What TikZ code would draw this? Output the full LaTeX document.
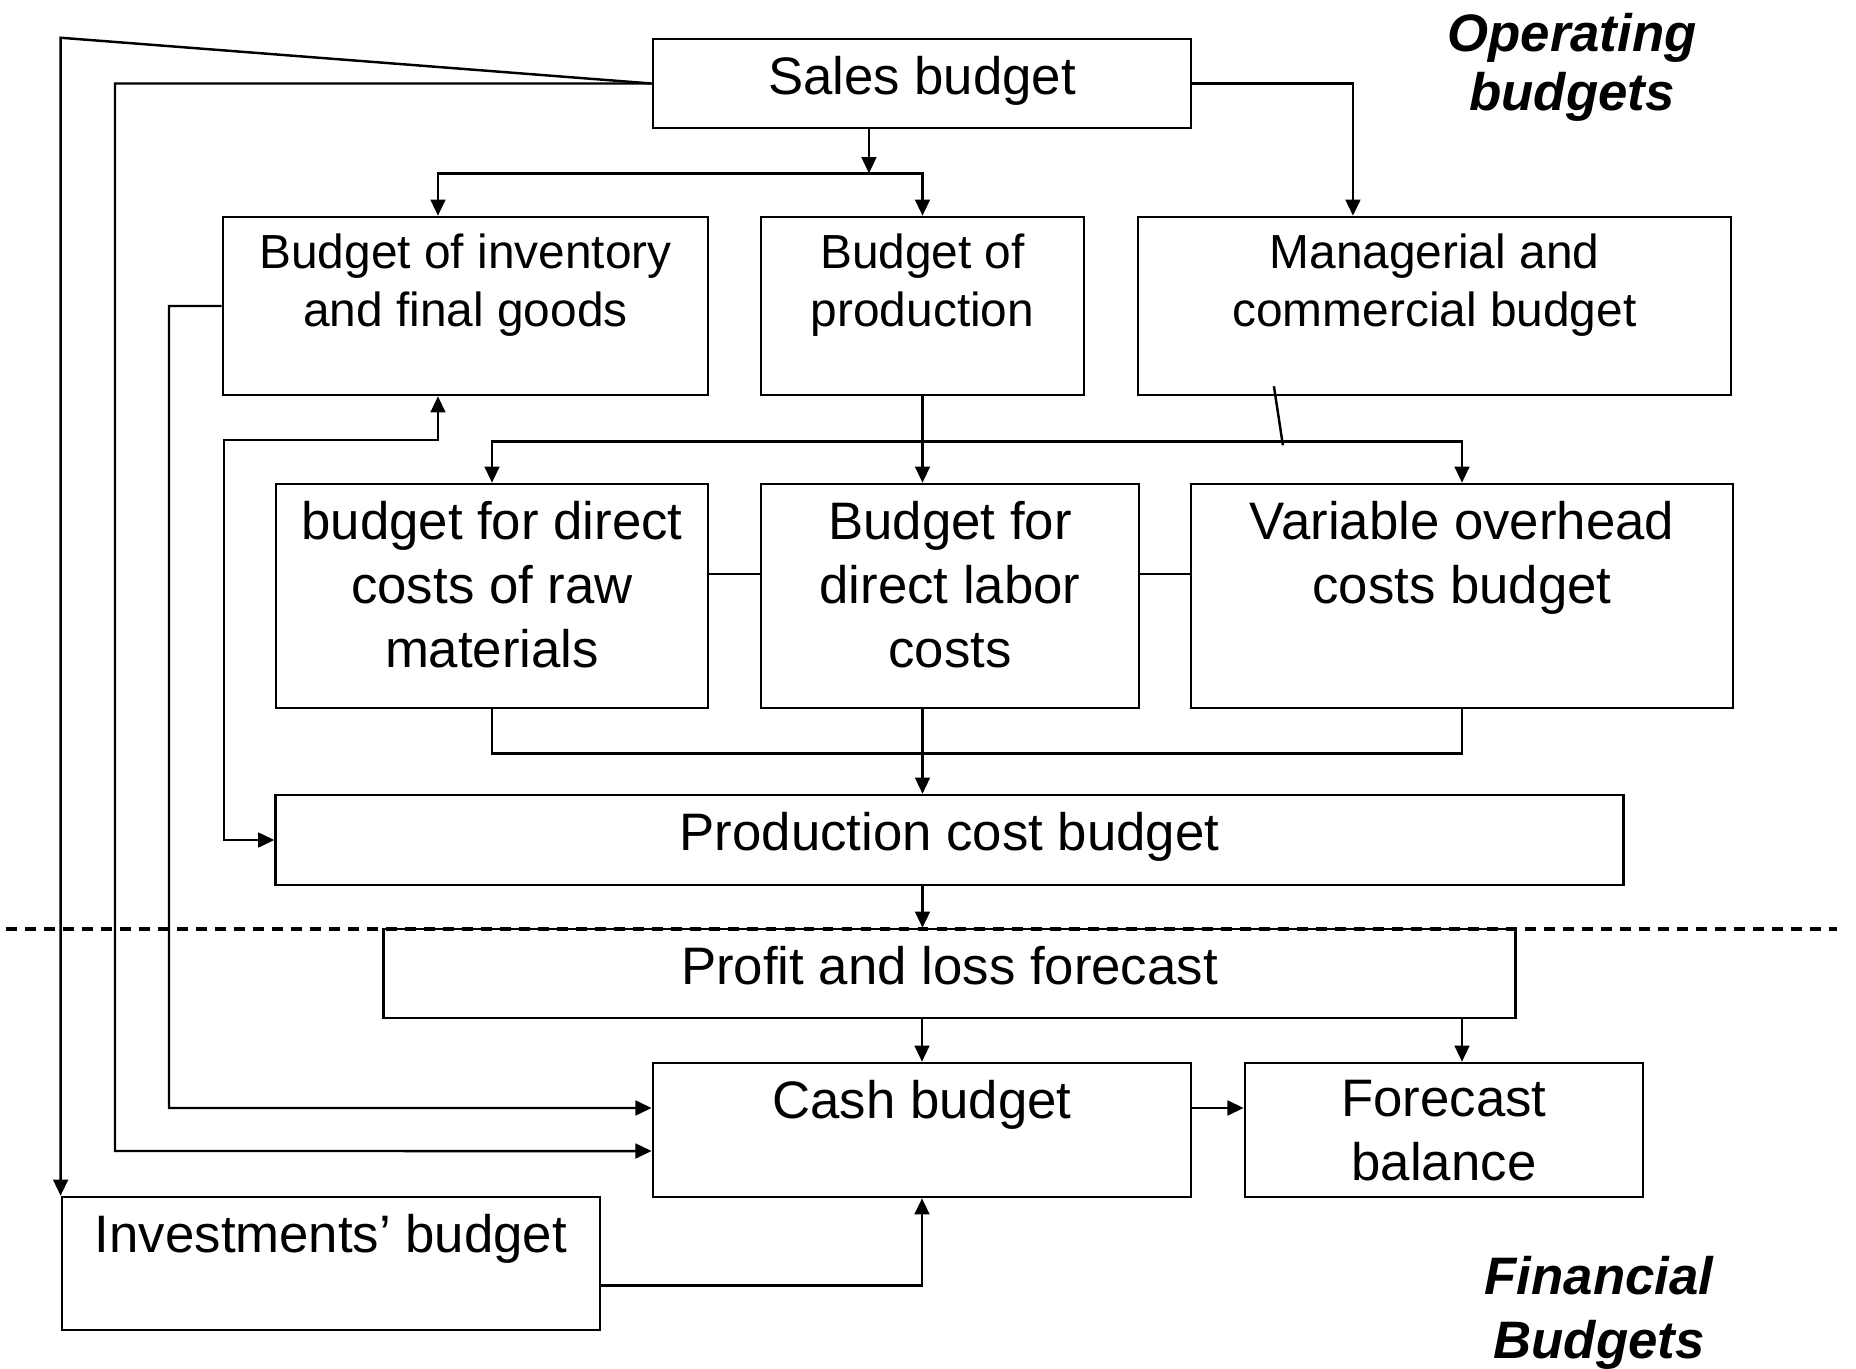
\documentclass[tikz,border=0pt]{standalone}
\usepackage{fontspec}
\setmainfont{Liberation Sans}
\usetikzlibrary{arrows.meta,positioning}
\tikzset{
  box/.style 2 args={draw,inner sep=0pt,minimum width=#1cm,minimum height=#2cm},
  txt/.style={anchor=north,align=center,inner sep=0.17cm,font=\fontsize{15pt}{18.2pt}\selectfont},
  small/.style={font=\fontsize{13.6pt}{16.5pt}\selectfont},
  head/.style={anchor=north,align=center,inner sep=0pt,font=\bfseries\itshape\fontsize{15pt}{16.8pt}\selectfont},
  >={Triangle[length=4.6pt,width=4.2pt]}
}

\begin{document}
\begin{tikzpicture}[x=0.01cm,y=-0.01cm,line width=0.7pt]
  \useasboundingbox (0,0) rectangle (1856,1369);
  \node[box={5.38}{0.89},label={[txt]north:Sales budget}] (sales) at (922,83.5) {};
  \node[box={4.85}{1.78},label={[txt,small]north:{Budget of inventory\\and final goods}}] (inv) at (465.5,306) {};
  \node[box={3.23}{1.78},label={[txt,small]north:{Budget of\\production}}] (prod) at (922.5,306) {};
  \node[box={5.93}{1.78},label={[txt,small]north:{Managerial and\\commercial budget}}] (mgr) at (1434.5,306) {};
  \node[box={4.32}{2.24},label={[txt]north:{budget for direct\\costs of raw\\materials}}] (raw) at (492,596) {};
  \node[box={3.78}{2.24},label={[txt]north:{Budget for\\direct labor\\costs}}] (labor) at (950,596) {};
  \node[box={5.42}{2.24},label={[txt]north:{Variable overhead\\costs budget}}] (var) at (1462,596) {};
  \node[box={13.47}{0.90},label={[txt]north:Production cost budget}] (pcost) at (949.5,840) {};
  \node[box={11.31}{0.89},label={[txt]north:Profit and loss forecast}] (pl) at (949.5,973.5) {};
  \node[box={5.38}{1.34},label={[txt]north:Cash budget}] (cash) at (922,1130) {};
  \node[box={3.98}{1.34},label={[txt]north:{Forecast\\balance}}] (fbal) at (1444,1130) {};
  \node[box={5.38}{1.33},label={[txt]north:Investments’ budget}] (invb) at (331,1263.5) {};

  \node[head] (op) at (1572,12) {Operating\\budgets};
  \node[head,font=\bfseries\itshape\fontsize{15pt}{18.2pt}\selectfont] (fin) at (1599,1255) {Financial\\Budgets};

  \draw[line width=0.9pt,dash pattern=on 3.1pt off 2.3pt] (6,929) -- (1837,929);

  \coordinate (fork) at ([xshift=-0.53cm,yshift=-0.44cm]sales.south);
  \coordinate (split) at ([yshift=-0.45cm]prod.south);

  \draw[->] (sales.west) -- (invb.north west |- sales.north) -- (invb.north west);
  \draw[->] (sales.west) -| (115,1151) -- ([yshift=-0.21cm]cash.west);
  \draw[->] (sales.south -| fork) -- (fork);
  \draw[->] (fork) -| ([xshift=-0.275cm]inv.north);
  \draw[->] (fork) -| (prod.north);
  \draw[->] (sales.east) -| ([xshift=-0.815cm]mgr.north);
  \draw[->] (inv.west) -| (169,1108) -- ([yshift=0.22cm]cash.west);
  \draw[<->] ([xshift=-0.275cm]inv.south) |- (224,440) |- (pcost.west);
  \draw[->] (prod.south) -- (labor.north -| prod.south);
  \draw[->] (split) -| (raw.north);
  \draw[->] (split) -| (var.north);
  \draw ([xshift=-1.605cm,yshift=0.1cm]mgr.south) -- ++(9,59);
  \draw ([yshift=0.22cm]raw.east) -- ([yshift=0.22cm]labor.west);
  \draw ([yshift=0.22cm]labor.east) -- ([yshift=0.22cm]var.west);
  \draw (raw.south) -- ++(0,44) -| (var.south);
  \draw[->] (labor.south -| prod.south) -- (pcost.north -| prod.south);
  \draw[->] (pcost.south -| prod.south) -- (pl.north -| prod.south);
  \draw[->] (pl.south -| cash.north) -- (cash.north);
  \draw[->] (pl.south -| var.south) -- (fbal.north -| var.south);
  \draw[->] ([yshift=0.22cm]cash.east) -- ([yshift=0.22cm]fbal.west);
  \draw[->] ([yshift=-0.22cm]invb.east) -| (cash.south);
\end{tikzpicture}
\end{document}
